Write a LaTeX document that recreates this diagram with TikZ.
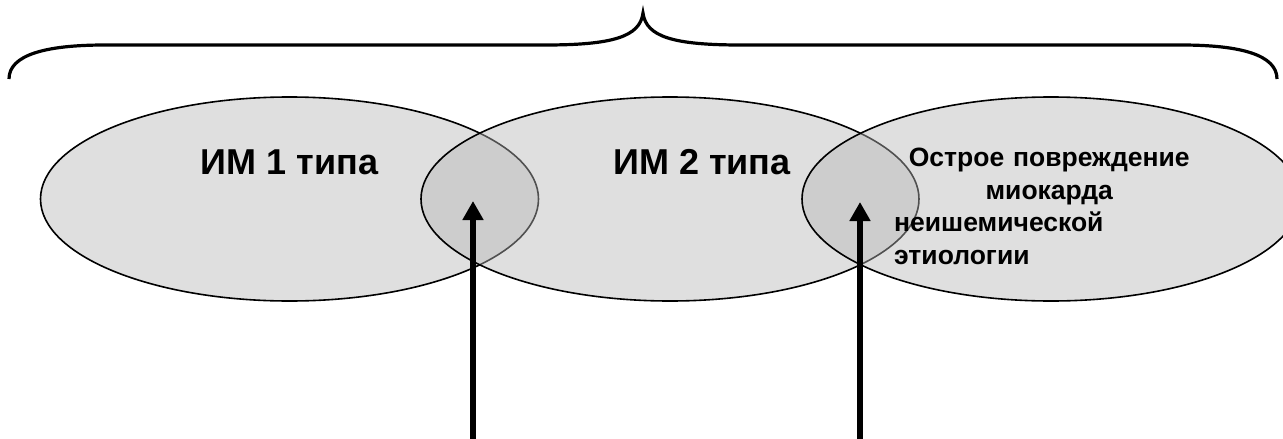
\documentclass[tikz,border=0pt]{standalone}
\usepackage{fontspec}
\setmainfont{Liberation Sans}
\usetikzlibrary{shapes.geometric,arrows.meta}
\begin{document}
\begin{tikzpicture}[x=1pt,y=-1pt,
  venn/.style={ellipse, draw=black, line width=1.6pt, fill={rgb,255:red,184;green,184;blue,184}, fill opacity=0.44,
    minimum width=498pt, minimum height=204pt, inner sep=0pt, outer sep=0pt},
  biglabel/.style={font=\fontsize{36}{40}\selectfont\bfseries, inner sep=0pt, anchor=base},
  smalllabel/.style={font=\fontsize{26.5}{32.5}\selectfont\bfseries, inner sep=0pt, align=left, text width=310pt, anchor=north west},
  uparrow/.style={line width=5.5pt, -{Triangle[length=19pt,width=20pt]}},
  bracestyle/.style={line width=3.2pt, line join=miter}]
\useasboundingbox (0,0) rectangle (1283,439);
\clip (0,0) rectangle (1283,439);
\fill[white] (0,0) rectangle (1283,439);
% brace
\coordinate (bl) at (9,79);
\coordinate (bt) at (643,13);
\coordinate (br) at (1277,79);
\draw[bracestyle] (bl) .. controls (9,55) and (45,45) .. (105,45) -- (545,45)
  .. controls (612,45) and (640,37) .. (bt)
  .. controls (646,37) and (674,45) .. (741,45) -- (1181,45)
  .. controls (1241,45) and (1277,55) .. (br);
% ellipses
\node[venn] (e1) at (289.5,199) {};
\node[venn] (e2) at (670,199) {};
\node[venn] (e3) at (1051,199) {};
% labels
\node[biglabel] (l1) at (289.5,174) {ИМ 1 типа};
\node[biglabel] (l2) at (702,174) {ИМ 2 типа};
\node[smalllabel] (l3) at (894,148) {\makebox[310pt][c]{Острое повреждение}\\\makebox[310pt][c]{миокарда}\\неишемической\\этиологии};
% arrows
\coordinate (a1s) at (473,445);
\coordinate (a1e) at (473,201);
\coordinate (a2s) at (860,445);
\coordinate (a2e) at (860,202);
\draw[uparrow] (a1s) -- (a1e);
\draw[uparrow] (a2s) -- (a2e);
\end{tikzpicture}
\end{document}
